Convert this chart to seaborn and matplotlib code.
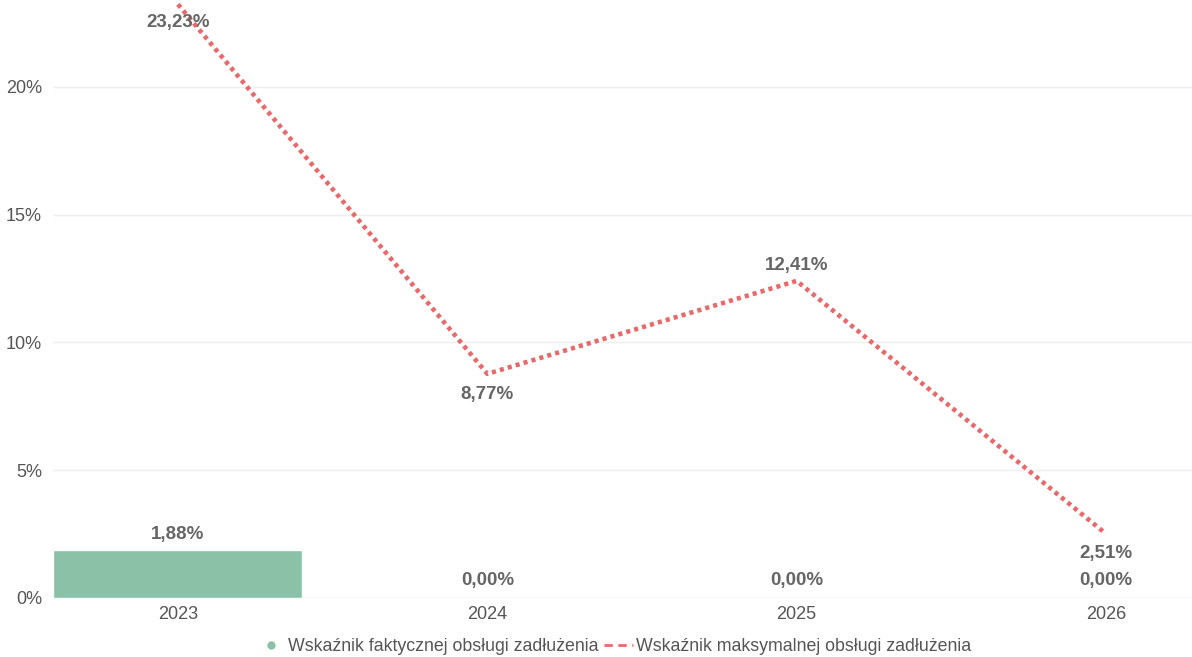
import matplotlib
matplotlib.use("Agg")
import matplotlib.pyplot as plt
from matplotlib.lines import Line2D
import seaborn as sns

years = ["2023", "2024", "2025", "2026"]
faktyczny = [1.88, 0.00, 0.00, 0.00]
maksymalny = [23.23, 8.77, 12.41, 2.51]
y_ticks = [0, 5, 10, 15, 20]

BAR_COLOR = "#8BC1A7"
LINE_COLOR = "#E8696B"
LABEL_COLOR = "#666666"

sns.set_theme(style="white")
plt.rcParams["font.family"] = ["Liberation Sans", "DejaVu Sans"]

fig = plt.figure(figsize=(11.92, 6.57), dpi=100)
ax = fig.add_axes([53 / 1192, 59 / 657, 1 - 53 / 1192, 1 - 59 / 657])

positions = list(range(len(years)))

sns.barplot(x=years, y=faktyczny, color=BAR_COLOR, width=0.805,
            saturation=1, ax=ax, zorder=2)
sns.lineplot(x=positions, y=maksymalny, color=LINE_COLOR, lw=3.3,
             ax=ax, zorder=3)
ax.lines[-1].set_linestyle((0, (0.9, 0.9)))

# etykiety danych (przesunięcie w punktach)
fmt = lambda v: f"{v:.2f}".replace(".", ",") + "%"
bar_offsets = [5, 6.5, 6.5, 6.5]
for i, v in enumerate(faktyczny):
    ax.annotate(fmt(v), (i, v), xytext=(0, bar_offsets[i]), textcoords="offset points",
                ha="center", va="bottom", fontsize=13.5, fontweight="bold",
                color=LABEL_COLOR, zorder=4)
offsets = [-7, -9, 5, -8]
for i, v in enumerate(maksymalny):
    ax.annotate(fmt(v), (i, v), xytext=(0, offsets[i]), textcoords="offset points",
                ha="center", va="top" if offsets[i] < 0 else "bottom",
                fontsize=13.5, fontweight="bold", color=LABEL_COLOR, zorder=4)

ax.set_xlim(-0.404, 3.278)
ax.set_ylim(0, 23.4)
ax.set_yticks(y_ticks)
ax.set_yticklabels([f"{t}%" for t in y_ticks])
ax.yaxis.grid(True, color="#efefef", lw=1)
ax.set_axisbelow(True)
for s in ax.spines.values():
    s.set_visible(False)
ax.tick_params(axis="both", length=0, labelsize=13, colors="#555555")
ax.tick_params(axis="x", pad=6)
ax.tick_params(axis="y", pad=8)

handles = [
    Line2D([0], [0], marker="o", color="w", markerfacecolor=BAR_COLOR,
           markersize=7, lw=0),
    Line2D([0], [0], color=LINE_COLOR, lw=2, linestyle=(0, (3, 2))),
]
fig.legend(handles, ["Wskaźnik faktycznej obsługi zadłużenia",
                     "Wskaźnik maksymalnej obsługi zadłużenia"],
           loc="lower center", bbox_to_anchor=(0.515, -0.022), ncol=2,
           frameon=False, fontsize=12.8, handlelength=1.6, handletextpad=0.2,
           columnspacing=0.3, labelcolor="#555555")

fig.savefig("out.png", dpi=100)
